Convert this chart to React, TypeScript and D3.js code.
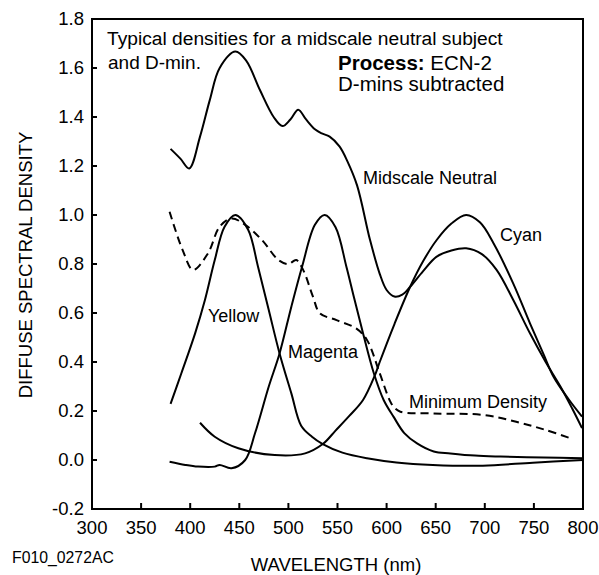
import * as d3 from 'd3'

const W = 599
const H = 575
const PLOT = { left: 92, right: 583, top: 19, bottom: 509 }
const FONT = '"Liberation Sans", Arial, Helvetica, sans-serif'

const xTicks = [300, 350, 400, 450, 500, 550, 600, 650, 700, 750, 800]
const yTicks = [-0.2, 0, 0.2, 0.4, 0.6, 0.8, 1.0, 1.2, 1.4, 1.6, 1.8]

// wavelength (nm) / density pairs
const neutralWave = [380, 390, 399, 410, 420, 430, 446, 457, 471, 485, 494, 502, 510, 518, 527, 534, 542, 552, 560, 570, 583, 593, 600, 608, 616, 624, 637, 651, 666, 681, 697, 712, 729, 746, 762, 777, 789, 799]
const neutralDensity = [1.27, 1.23, 1.19, 1.32, 1.47, 1.6, 1.667, 1.63, 1.51, 1.4, 1.363, 1.39, 1.43, 1.39, 1.35, 1.333, 1.32, 1.28, 1.22, 1.12, 0.9, 0.76, 0.694, 0.667, 0.675, 0.707, 0.77, 0.83, 0.855, 0.864, 0.84, 0.776, 0.653, 0.517, 0.4, 0.3, 0.21, 0.13]

const cyanWave = [410, 425, 449, 486, 517, 535, 548, 562, 576, 588, 593, 608, 624, 637, 651, 666, 681, 695, 709, 729, 746, 760, 770, 785, 799]
const cyanDensity = [0.152, 0.095, 0.048, 0.02, 0.027, 0.065, 0.12, 0.18, 0.245, 0.345, 0.4, 0.555, 0.707, 0.81, 0.898, 0.965, 1.0, 0.97, 0.884, 0.72, 0.558, 0.43, 0.34, 0.25, 0.177]

const magentaWave = [379, 395, 408, 425, 430, 442, 456, 466, 480, 491, 503, 514, 527, 537, 548, 559, 567, 576, 587, 597, 607, 618, 631, 648, 665, 690, 716, 760, 800]
const magentaDensity = [-0.007, -0.02, -0.027, -0.027, -0.02, -0.034, 0.0, 0.109, 0.3, 0.435, 0.626, 0.79, 0.96, 1.0, 0.95, 0.79, 0.66, 0.517, 0.354, 0.245, 0.177, 0.11, 0.068, 0.035, 0.027, 0.018, 0.014, 0.01, 0.007]

const yellowWave = [380, 391, 405, 415, 425, 435, 446, 459, 469, 480, 491, 503, 513, 524, 535, 555, 580, 610, 647, 698, 749, 800]
const yellowDensity = [0.229, 0.354, 0.517, 0.653, 0.816, 0.952, 1.0, 0.94, 0.79, 0.612, 0.435, 0.272, 0.14, 0.095, 0.065, 0.03, 0.007, -0.01, -0.02, -0.023, -0.011, 0.0]

const dminWave = [379, 392, 403, 418, 430, 442, 456, 473, 490, 500, 508, 515, 525, 532, 549, 569, 580, 593, 603, 607, 614, 648, 698, 732, 760, 790]
const dminDensity = [1.013, 0.86, 0.776, 0.843, 0.952, 0.986, 0.96, 0.898, 0.816, 0.8, 0.816, 0.776, 0.667, 0.599, 0.571, 0.537, 0.49, 0.354, 0.245, 0.218, 0.197, 0.19, 0.184, 0.156, 0.125, 0.085]

const series = [
  { name: 'Midscale Neutral', wave: neutralWave, density: neutralDensity, dashed: false },
  { name: 'Cyan', wave: cyanWave, density: cyanDensity, dashed: false },
  { name: 'Magenta', wave: magentaWave, density: magentaDensity, dashed: false },
  { name: 'Yellow', wave: yellowWave, density: yellowDensity, dashed: false },
  { name: 'Minimum Density', wave: dminWave, density: dminDensity, dashed: true },
]

const curveLabels = [
  { text: 'Midscale Neutral', x: 363, y: 184 },
  { text: 'Cyan', x: 500, y: 241 },
  { text: 'Yellow', x: 208, y: 322 },
  { text: 'Magenta', x: 288, y: 358 },
  { text: 'Minimum Density', x: 409, y: 408 },
]

export default function App() {
  const x = d3.scaleLinear().domain([300, 800]).range([PLOT.left, PLOT.right])
  const y = d3.scaleLinear().domain([-0.2, 1.8]).range([PLOT.bottom, PLOT.top])

  const line = d3
    .line<[number, number]>()
    .x((d) => x(d[0]))
    .y((d) => y(d[1]))
    .curve(d3.curveCatmullRom.alpha(0.5))

  return (
    <div style={{ position: 'absolute', left: 0, top: 0 }}>
      <svg width={W} height={H} viewBox={`0 0 ${W} ${H}`} style={{ display: 'block', background: '#fff' }} fontFamily={FONT}>
        <rect x={0} y={0} width={W} height={H} fill="#fff" />

        {series.map((s) => (
          <path
            key={s.name}
            d={line(s.wave.map((w, i) => [w, s.density[i]] as [number, number])) ?? ''}
            fill="none"
            stroke="#000"
            strokeWidth={2}
            strokeDasharray={s.dashed ? '8 5' : undefined}
            strokeLinejoin="round"
          />
        ))}

        <rect
          x={PLOT.left}
          y={PLOT.top}
          width={PLOT.right - PLOT.left}
          height={PLOT.bottom - PLOT.top}
          fill="none"
          stroke="#000"
          strokeWidth={2}
        />

        {yTicks.map((t) => (
          <g key={`y${t}`}>
            {t > -0.2 && t < 1.8 ? (
              <line x1={PLOT.left} x2={PLOT.left + 5} y1={y(t)} y2={y(t)} stroke="#000" strokeWidth={2} />
            ) : null}
            <text x={PLOT.left - 8} y={y(t) + 6} textAnchor="end" fontSize={18.5} fill="#000">
              {t.toFixed(1)}
            </text>
          </g>
        ))}

        {xTicks.map((t) => (
          <g key={`x${t}`}>
            {t > 300 && t < 800 ? (
              <line x1={x(t)} x2={x(t)} y1={PLOT.bottom} y2={PLOT.bottom - 6} stroke="#000" strokeWidth={2} />
            ) : null}
            <text x={x(t)} y={533.5} textAnchor="middle" fontSize={18.5} fill="#000">
              {t}
            </text>
          </g>
        ))}

        <text
          transform={`translate(32, 265) rotate(-90)`}
          textAnchor="middle"
          fontSize={18.5}
          fill="#000"
        >
          DIFFUSE SPECTRAL DENSITY
        </text>
        <text x={336} y={570.5} textAnchor="middle" fontSize={18.5} fill="#000">
          WAVELENGTH (nm)
        </text>
        <text x={12} y={562.5} fontSize={15.8} fill="#000">
          F010_0272AC
        </text>

        <text x={107} y={45} fontSize={19.2} fill="#000">
          Typical densities for a midscale neutral subject
        </text>
        <text x={108} y={68.5} fontSize={19} fill="#000">
          and D-min.
        </text>
        <text x={338} y={69.5} fontSize={20.5} fill="#000">
          <tspan fontWeight="bold">Process:</tspan> ECN-2
        </text>
        <text x={338} y={90.5} fontSize={20.5} fill="#000">
          D-mins subtracted
        </text>

        {curveLabels.map((l) => (
          <text key={l.text} x={l.x} y={l.y} fontSize={18} fill="#000">
            {l.text}
          </text>
        ))}
      </svg>
    </div>
  )
}
